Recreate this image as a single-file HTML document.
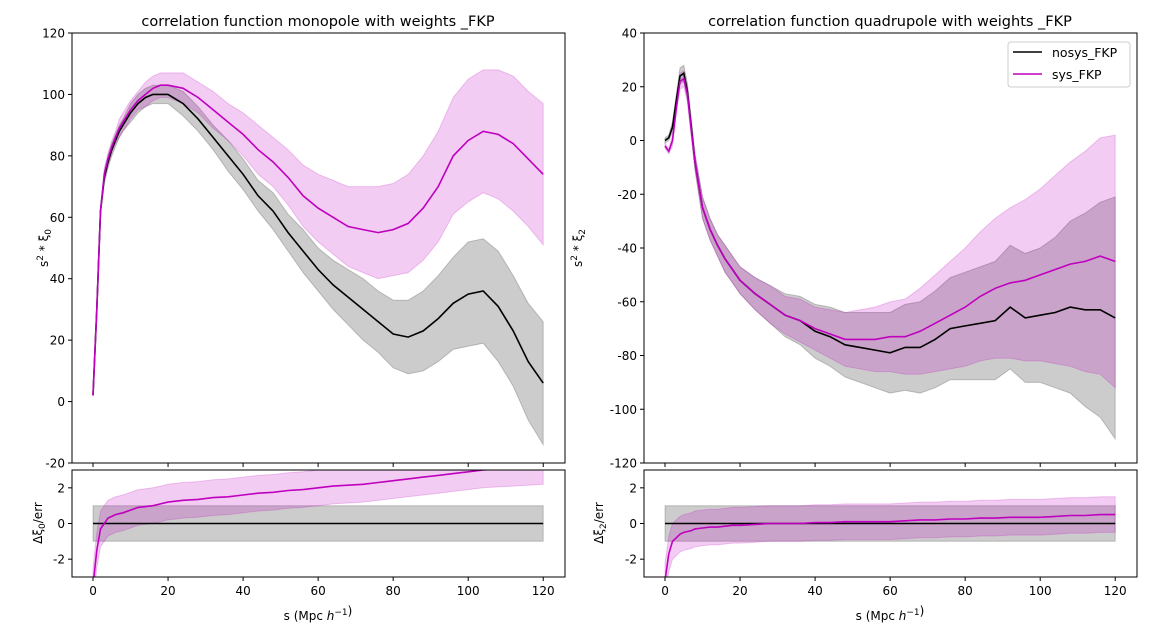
<!DOCTYPE html>
<html><head><meta charset="utf-8"><style>
body{margin:0;background:#fff}
svg text{font-family:"DejaVu Sans","Liberation Sans",sans-serif;fill:#000}
</style></head><body>
<svg id="fig" width="1161" height="631" viewBox="0 0 1161 631" xmlns="http://www.w3.org/2000/svg">
<defs>
<clipPath id="cL"><rect x="72" y="33" width="493" height="430"/></clipPath>
<clipPath id="cR"><rect x="644" y="33" width="493" height="430"/></clipPath>
<clipPath id="cLb"><rect x="72" y="470" width="493" height="107"/></clipPath>
<clipPath id="cRb"><rect x="644" y="470" width="493" height="107"/></clipPath>
</defs>
</svg>
<script>
const sVals=[0,1,2,3,4,5,6,7,8,10,12,14,16,18,20,24,28,32,36,40,44,48,52,56,60,64,68,72,76,80,84,88,92,96,100,104,108,112,116,120];
const monoNosys=[2,30,62,73,78,82,85,88,90,94,97,99,100,100,100,97,92,86,80,74,67,62,55,49,43,38,34,30,26,22,21,23,27,32,35,36,31,23,13,6];
const monoNosysErr=[0,1,1,2,2,2,2,2,2,3,3,3,3,3,3,4,4,4,5,5,5,6,6,7,7,8,9,10,10,11,12,13,14,15,17,17,18,18,19,20];
const monoSys=[2,30,62,74,79,83,86,89,91,95,98,100,102,103,103,102,99,95,91,87,82,78,73,67,63,60,57,56,55,56,58,63,70,80,85,88,87,84,79,74];
const monoSysErr=[0,1,1,2,2,2,2,3,3,3,3,4,4,4,4,5,5,6,6,7,8,8,9,10,11,12,13,14,15,15,16,17,18,19,20,20,21,22,22,23];
const quadNosys=[0,1,5,15,24,25,18,5,-8,-25,-33,-39,-44,-48,-52,-57,-61,-65,-67,-71,-73,-76,-77,-78,-79,-77,-77,-74,-70,-69,-68,-67,-62,-66,-65,-64,-62,-63,-63,-66];
const quadNosysErr=[1,1,2,2,3,3,3,3,3,4,4,4,5,5,5,6,7,8,9,10,11,12,13,14,15,16,17,18,19,20,21,22,23,24,25,28,32,36,40,45];
const quadSys=[-2,-4,0,12,22,23,17,4,-8,-25,-33,-39,-44,-48,-52,-57,-61,-65,-67,-70,-72,-74,-74,-74,-73,-73,-71,-68,-65,-62,-58,-55,-53,-52,-50,-48,-46,-45,-43,-45];
const quadSysErr=[1,1,2,2,3,3,3,3,3,4,4,4,5,5,5,6,7,7,8,8,9,10,11,12,13,14,16,18,20,22,24,26,28,30,32,35,38,41,44,47];
const dMono=[-3.5,-1.5,-0.3,0,0.3,0.4,0.5,0.55,0.6,0.75,0.9,0.95,1.0,1.1,1.2,1.3,1.35,1.45,1.5,1.6,1.7,1.75,1.85,1.9,2.0,2.1,2.15,2.2,2.3,2.4,2.5,2.6,2.7,2.8,2.9,3.0,3.05,3.1,3.15,3.2];
const dQuad=[-3.2,-1.7,-1,-0.8,-0.6,-0.5,-0.45,-0.4,-0.3,-0.25,-0.2,-0.2,-0.15,-0.1,-0.1,-0.05,0,0,0,0.05,0.05,0.1,0.1,0.1,0.1,0.15,0.2,0.2,0.25,0.25,0.3,0.3,0.35,0.35,0.35,0.4,0.45,0.45,0.5,0.5];
const xTicks=[0,20,40,60,80,100,120];
const monoYTicks=[-20,0,20,40,60,80,100,120];
const quadYTicks=[-120,-100,-80,-60,-40,-20,0,20,40];
const resTicks=[-2,0,2];

const NS="http://www.w3.org/2000/svg";
const svg=document.getElementById('fig');
function mk(tag,attrs,parent){const e=document.createElementNS(NS,tag);for(const k in attrs)e.setAttribute(k,attrs[k]);(parent||svg).appendChild(e);return e;}
function panel(x0,y0,w,h,xmin,xmax,ymin,ymax){return{x:v=>x0+(v-xmin)/(xmax-xmin)*w,y:v=>y0+h-(v-ymin)/(ymax-ymin)*h,x0,y0,w,h};}
function lineD(P,xs,ys){return xs.map((s,i)=>(i?'L':'M')+P.x(s).toFixed(1)+','+P.y(ys[i]).toFixed(1)).join('');}
function bandD(P,xs,ys,er){let d=xs.map((s,i)=>(i?'L':'M')+P.x(s).toFixed(1)+','+P.y(ys[i]+er[i]).toFixed(1)).join('');for(let i=xs.length-1;i>=0;i--)d+='L'+P.x(xs[i]).toFixed(1)+','+P.y(ys[i]-er[i]).toFixed(1);return d+'Z';}
function axes(P,name,yt,showX,ylab){
  const g=mk('g',{});
  
  mk('rect',{x:P.x0,y:P.y0,width:P.w,height:P.h,fill:'none',stroke:'#000','stroke-width':1},g);
  xTicks.forEach(t=>{const x=P.x(t);mk('line',{x1:x,x2:x,y1:P.y0+P.h,y2:P.y0+P.h+4,stroke:'#000'},g);
    if(showX){const tx=mk('text',{x:x,y:P.y0+P.h+18,'text-anchor':'middle','font-size':12},g);tx.textContent=t;}});
  yt.forEach(t=>{const y=P.y(t);mk('line',{x1:P.x0-4,x2:P.x0,y1:y,y2:y,stroke:'#000'},g);
    const tx=mk('text',{x:P.x0-7,y:y+4.5,'text-anchor':'end','font-size':12},g);tx.textContent=t;});
  return g;
}
function series(P,clip,d,color,op,name,isLine){
  const e=mk('path',isLine?{d:d,fill:'none',stroke:color,'stroke-width':1.6,'clip-path':'url(#'+clip+')'}:{d:d,fill:color,'fill-opacity':op,stroke:color,'stroke-opacity':op,'clip-path':'url(#'+clip+')'});
  
  
}
const K='#000',M='#bf00bf';
// Left main
const L=panel(72,33,493,430,-5.6,125.8,-20,120);
series(L,'cL',bandD(L,sVals,monoNosys,monoNosysErr),K,0.2,'nosys-band-monopole');
series(L,'cL',bandD(L,sVals,monoSys,monoSysErr),M,0.2,'sys-band-monopole');
series(L,'cL',lineD(L,sVals,monoNosys),K,1,'nosys-line-monopole',true);
series(L,'cL',lineD(L,sVals,monoSys),M,1,'sys-line-monopole',true);
axes(L,'monopole',monoYTicks,false);
// Right main
const R=panel(644,33,493,430,-5.6,125.8,-120,40);
series(R,'cR',bandD(R,sVals,quadNosys,quadNosysErr),K,0.2,'nosys-band-quadrupole');
series(R,'cR',bandD(R,sVals,quadSys,quadSysErr),M,0.2,'sys-band-quadrupole');
series(R,'cR',lineD(R,sVals,quadNosys),K,1,'nosys-line-quadrupole',true);
series(R,'cR',lineD(R,sVals,quadSys),M,1,'sys-line-quadrupole',true);
axes(R,'quadrupole',quadYTicks,false);
// residual panels
const zeros=sVals.map(()=>0),ones=sVals.map(()=>1);
[[panel(72,470,493,107,-5.6,125.8,-3,3),'cLb',dMono,'monopole-residual'],[panel(644,470,493,107,-5.6,125.8,-3,3),'cRb',dQuad,'quadrupole-residual']].forEach(([P,c,d,n])=>{
  series(P,c,bandD(P,sVals,zeros,ones),K,0.2,n+'-nosys-band');
  series(P,c,bandD(P,sVals,d,ones),M,0.2,n+'-sys-band');
  series(P,c,lineD(P,sVals,zeros),K,1,n+'-nosys-line',true);
  series(P,c,lineD(P,sVals,d),M,1,n+'-sys-line',true);
  axes(P,n,resTicks,true);
});
function txt(x,y,s,size,name,rot){const t=mk('text',{x:x,y:y,'text-anchor':'middle','font-size':size});if(rot)t.setAttribute('transform','rotate(-90 '+x+' '+y+')');t.innerHTML=s;}
txt(318,26,'correlation function monopole with weights _FKP',14.5,'left-title');
txt(890,26,'correlation function quadrupole with weights _FKP',14.5,'right-title');
txt(48,248,'s<tspan font-size="9" dy="-5">2</tspan><tspan dy="5"> * ξ</tspan><tspan font-size="9" dy="3">0</tspan>',12,'left-y-label',true);
txt(582,248,'s<tspan font-size="9" dy="-5">2</tspan><tspan dy="5"> * ξ</tspan><tspan font-size="9" dy="3">2</tspan>',12,'right-y-label',true);
txt(42,523,'Δξ<tspan font-size="9" dy="3">0</tspan><tspan dy="-3">/err</tspan>',12,'left-residual-y-label',true);
txt(603,523,'Δξ<tspan font-size="9" dy="3">2</tspan><tspan dy="-3">/err</tspan>',12,'right-residual-y-label',true);
txt(318,620,'s (Mpc <tspan font-style="italic">h</tspan><tspan font-size="9" dy="-5">−1</tspan>)',12,'left-x-label');
txt(890,620,'s (Mpc <tspan font-style="italic">h</tspan><tspan font-size="9" dy="-5">−1</tspan>)',12,'right-x-label');
// legend
const lg=mk('g',{});

mk('rect',{x:1008,y:42,width:122,height:45,rx:3,fill:'#fff',stroke:'#ccc'},lg);
mk('line',{x1:1013,x2:1042,y1:52,y2:52,stroke:K,'stroke-width':1.6},lg);
mk('line',{x1:1013,x2:1042,y1:74,y2:74,stroke:M,'stroke-width':1.6},lg);
const t1=mk('text',{x:1052,y:57,'font-size':12.5},lg);t1.textContent='nosys_FKP';
const t2=mk('text',{x:1052,y:79,'font-size':12.5},lg);t2.textContent='sys_FKP';
</script>
</body></html>
